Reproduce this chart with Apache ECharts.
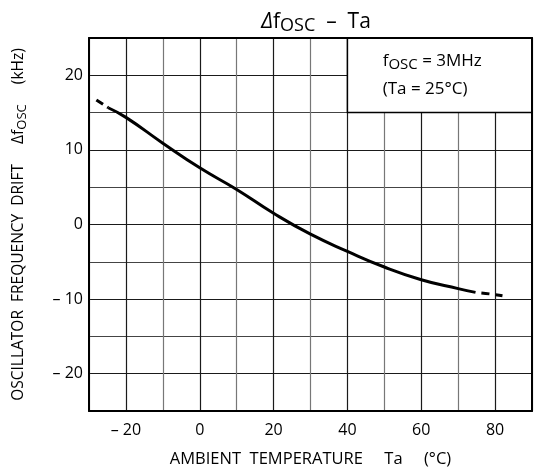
<!DOCTYPE html>
<html lang="en">

<head>
    <meta charset="UTF-8">
    <title>dfosc-ta</title>
    <script src="https://cdn.jsdelivr.net/npm/echarts@6/dist/echarts.min.js"></script>
</head>

<body style="margin:0;padding:0;background:#fff;overflow:hidden;">
    <div id="chart" style="width:536px;height:476px;"></div>
    <script>
        // measured curve, [Ta (°C), drift (kHz)]
        var solidCurve = [[-24.8, 15.65], [-20, 14.36], [-10, 10.9], [0, 7.6], [10, 4.7], [20, 1.5],
            [30, -1.3], [40, -3.6], [50, -5.7], [60, -7.4], [70, -8.6], [74.7, -9.1]];
        var dashLeft = [[-28, 16.7], [-24.8, 15.65]];
        var dashRight = [[74.7, -9.1], [78.5, -9.3], [82, -9.55]];
        // box in the top right that hides the grid (x from, y from, x to, y to)
        var noteBox = [40, 15, 90, 25];

        var fontName = '"Open Sans", "Noto Sans", sans-serif';
        var rich = {
            n: { fontSize: 15.5, fontFamily: fontName, color: '#000' },
            s: { fontSize: 13, fontFamily: fontName, color: '#000', padding: [7, 0, 0, 0] }
        };
        var noteRich = {
            n: { fontSize: 17, fontFamily: fontName, color: '#000' },
            s: { fontSize: 15, fontFamily: fontName, color: '#000', padding: [7, 0, 0, 0] }
        };

        function tickText(v, step) {
            if (v % step !== 0) return '';
            if (v < 0) return '\u2013 ' + Math.abs(v);
            return String(v);
        }

        function borderLine() {
            return { show: true, onZero: false, lineStyle: { color: '#000', width: 2 } };
        }

        var myChart = echarts.init(document.getElementById('chart'));
        var option = {
            animation: false,
            title: {
                text: '{i|\u0394}{t|f}{ts|OSC}{t|  \u2013  Ta}',
                left: 311,
                textAlign: 'center',
                top: 4,
                textStyle: {
                    rich: {
                        i: { fontSize: 21, fontStyle: 'italic', fontWeight: 'normal', fontFamily: fontName, color: '#000' },
                        t: { fontSize: 21, fontWeight: 'normal', fontFamily: fontName, color: '#000' },
                        ts: { fontSize: 18, fontWeight: 'normal', fontFamily: fontName, color: '#000', padding: [8, 0, 0, 0] }
                    }
                }
            },
            grid: { left: 89, right: 4, top: 38, bottom: 65 },
            xAxis: [{
                type: 'value',
                min: -30, max: 90, interval: 10,
                name: 'AMBIENT  TEMPERATURE     Ta     (\u00b0C)',
                nameLocation: 'middle',
                nameGap: 40,
                nameTextStyle: { fontSize: 16.5, fontFamily: fontName, color: '#000' },
                axisLine: borderLine(),
                axisTick: { show: false },
                axisLabel: {
                    fontSize: 16, fontFamily: fontName, color: '#000', margin: 11,
                    formatter: function (v) { return tickText(v, 20); }
                },
                splitLine: { lineStyle: { color: ['#777', '#1a1a1a'], width: 1.2 } }
            }, {
                type: 'value', position: 'top', z: 10,
                min: -30, max: 90, interval: 10,
                axisLine: borderLine(),
                axisTick: { show: false }, axisLabel: { show: false }, splitLine: { show: false }
            }],
            yAxis: [{
                type: 'value',
                min: -25, max: 25, interval: 5,
                name: '{n|OSCILLATOR  FREQUENCY  DRIFT     \u0394f}{s|OSC}{n|     (kHz)}',
                nameLocation: 'middle',
                nameGap: 60,
                nameTextStyle: { rich: rich },
                axisLine: borderLine(),
                axisTick: { show: false },
                axisLabel: {
                    fontSize: 16, fontFamily: fontName, color: '#000', margin: 6,
                    formatter: function (v) { return tickText(v, 10); }
                },
                splitLine: { lineStyle: { color: ['#444', '#1a1a1a'], width: 1.2 } }
            }, {
                type: 'value', position: 'right', z: 10,
                min: -25, max: 25, interval: 5,
                axisLine: borderLine(),
                axisTick: { show: false }, axisLabel: { show: false }, splitLine: { show: false }
            }],
            series: [{
                type: 'line',
                data: solidCurve,
                smooth: true,
                symbol: 'none',
                lineStyle: { color: '#000', width: 3 },
                markArea: {
                    silent: true,
                    itemStyle: { color: '#fff', borderColor: '#000', borderWidth: 1.5, opacity: 1 },
                    label: {
                        show: true,
                        position: [36, 10],
                        lineHeight: 28,
                        formatter: '{n|f}{s|OSC}{n| = 3MHz}\n{n|(Ta = 25\u00b0C)}',
                        rich: noteRich
                    },
                    data: [[{ xAxis: noteBox[0], yAxis: noteBox[1] }, { xAxis: noteBox[2], yAxis: noteBox[3] }]]
                }
            }, {
                type: 'line',
                data: dashLeft,
                symbol: 'none',
                lineStyle: { color: '#000', width: 3, type: [8, 5] }
            }, {
                type: 'line',
                data: dashRight,
                smooth: true,
                symbol: 'none',
                lineStyle: { color: '#000', width: 3, type: [8, 6], dashOffset: 8 }
            }]
        };
        myChart.setOption(option);
    </script>
</body>

</html>
